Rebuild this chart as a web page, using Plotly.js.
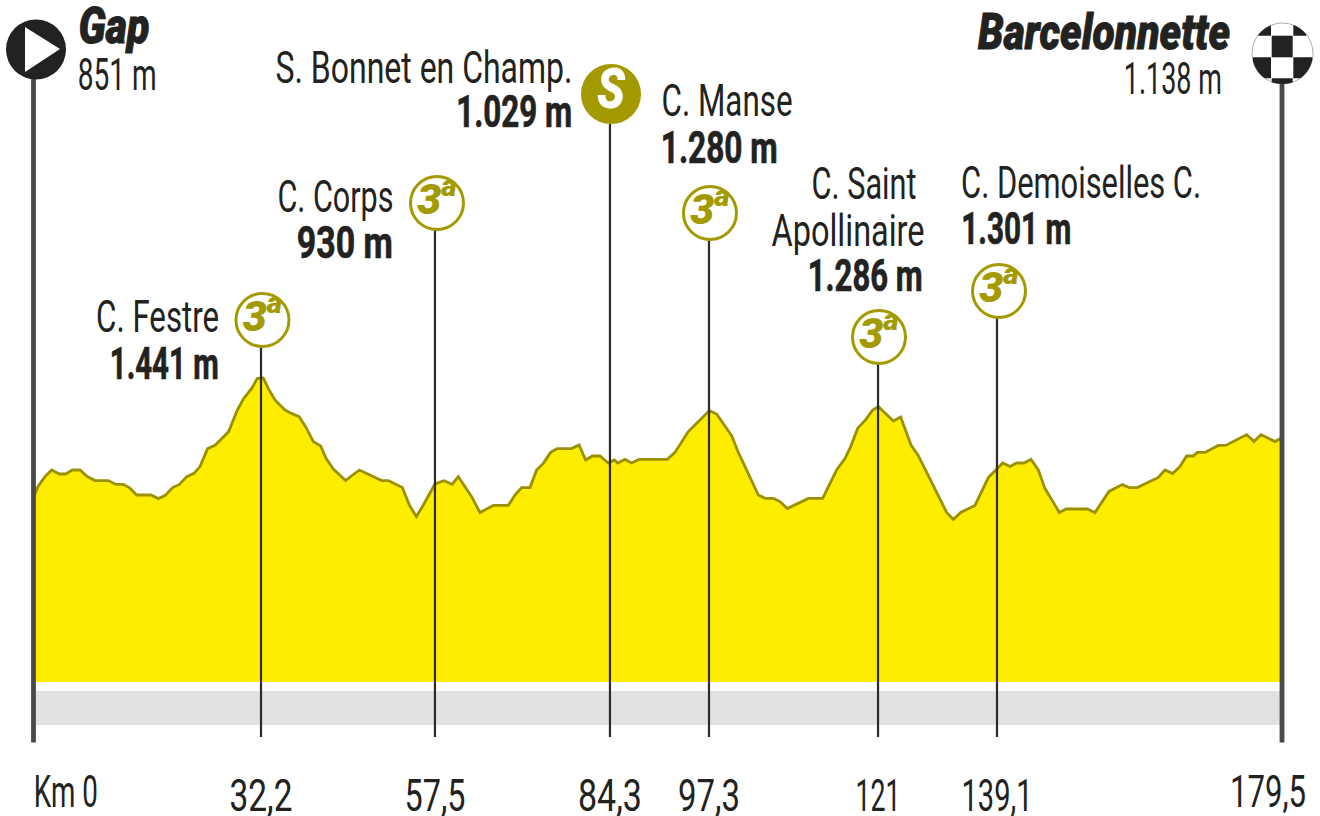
<!DOCTYPE html>
<html><head><meta charset="utf-8">
<script src="https://cdn.plot.ly/plotly-3.0.0.min.js"></script>
<style>html,body{margin:0;padding:0;background:#fff}#c{width:1320px;height:816px}</style>
</head><body><div id="c"></div>
<script>
// ---- data ----
const profileKm=[0,0.62,1.58,2.54,3.65,4.56,5.52,6.62,7.68,8.78,10.7,11.8,12.86,13.73,14.78,16.85,17.9,18.86,19.97,20.93,22,23.04,23.9,25,26.06,27.02,28.03,29.28,30.14,31.34,32.16,33.02,33.74,34.7,36.14,37.1,38.16,39.17,40.22,41.28,42.05,43.1,44.88,45.89,46.85,47.9,48.96,50.06,51.02,53.04,54.05,55.06,56.06,57.02,57.74,59.04,60.19,61.1,63.02,64.22,66.14,68.3,69.26,70.22,71.42,72.38,73.34,74.4,75.36,77.42,78.48,79.44,80.4,81.5,82.7,83.57,84.05,85.1,86.06,87.12,91.2,92.3,94.22,95.18,97.25,98.3,99.26,100.46,101.42,104.3,105.36,106.46,107.42,108.48,111.5,113.57,115.58,116.8,117.6,118.6,119.8,120.77,121.58,122.69,123.74,124.8,126.29,127.34,131.42,132.38,133.44,135.5,137.42,138.86,139.49,140.54,141.5,142.56,143.57,144.62,145.58,146.54,147.65,148.61,151.68,152.78,154.8,156.72,157.73,158.88,161.9,162.86,163.97,165.02,165.98,166.94,167.52,168.62,170.54,171.6,174.62,175.68,176.69,178.7,179.5];
const profileElev=[851,901,948,981,961,961,981,981,948,928,928,909,909,893,856,856,838,853,893,909,948,964,998,1088,1104,1138,1173,1281,1336,1389,1439,1441,1389,1331,1281,1264,1248,1194,1123,1101,1039,986,928,956,981,964,946,928,928,893,806,748,806,868,911,927,909,948,848,768,804,804,856,893,893,981,1014,1069,1088,1088,1106,1031,1051,1051,1016,1031,1016,1034,1016,1034,1034,1069,1173,1206,1278,1261,1214,1153,1069,856,839,839,823,788,839,839,981,1039,1098,1189,1234,1281,1298,1261,1226,1246,1106,1053,769,734,769,804,943,994,1016,999,1016,1016,1034,981,888,834,768,786,786,768,874,908,893,893,944,981,963,999,1051,1051,1069,1069,1104,1104,1158,1123,1158,1123,1138];
const passKm=[32.69,57.74,82.94,97.2,121.54,138.67];
const passTick=["32,2","57,5","84,3","97,3","121","139,1"];
const climbKm=[32.9,58.03,97.34,121.68,138.96];
const sprintKm=[83.09];
const climbBadge="3<sup>a</sup>", sprintBadge="S";
const startName="Gap", startAlt="851 m", endName="Barcelonnette", endAlt="1.138 m";
const startTick="Km 0", endTick="179,5";

// ---- picture layout ----
const X=p=>(p-34)*0.144, Y=p=>3331-5*p;
const W=1320,H=816,PB=745;
const INK="#222221",POLE="#474a4a",OLIVE="#A39A00",YEL="#FFED00";
const FN="Roboto,'Liberation Sans',sans-serif";
const climbY=[320,203,213,337,291], sprintY=[94];
const badgeTop=[347,230,124,240,364,318];

const linesX=[],linesY=[];
passKm.forEach((k,i)=>{linesX.push(k,k,null);linesY.push(Y(badgeTop[i]),Y(737),null)});

const traces=[
 {x:[0,179.5],y:[Y(682),Y(682)],mode:'lines',line:{width:0,color:YEL},hoverinfo:'skip'},
 {x:profileKm,y:profileElev,mode:'lines',fill:'tonexty',fillcolor:YEL,line:{color:'#9A9000',width:2.8,shape:'linear'}},
 {x:linesX,y:linesY,mode:'lines',line:{color:'#2b2b2b',width:2.2},hoverinfo:'skip'},
 {x:climbKm,y:climbY.map(Y),mode:'markers+text',text:climbKm.map(()=>climbBadge),textposition:'middle center',
  textfont:{family:FN,size:43,color:OLIVE,weight:900,style:'italic'},
  marker:{size:53,color:'#fff',opacity:1,line:{color:OLIVE,width:3}},cliponaxis:false},
 {x:sprintKm,y:sprintY.map(Y),mode:'markers+text',text:[sprintBadge],textposition:'middle center',
  textfont:{family:FN,size:56,color:'#fff',weight:900,style:'italic'},
  marker:{size:57,color:OLIVE,opacity:1,line:{color:OLIVE,width:3}},cliponaxis:false}
];

// ---- finish flag: checker cells clipped to the disc ----
function cell(cx,cy,r,x0,x1,y0,y1){
  const top=[],bot=[];
  for(let x=x0;x<=x1+0.001;x+=1){
    const h=r*r-x*x; if(h<=0)continue;
    const s=Math.sqrt(h),a=Math.max(y0,-s),b=Math.min(y1,s);
    if(a>=b)continue;
    top.push([x,a]);bot.unshift([x,b]);
  }
  const pts=top.concat(bot);
  return 'M'+pts.map(q=>X(cx+q[0])+','+Y(cy+q[1])).join('L')+'Z';
}
const fx=1282.5,fy=53.5,fr=30.5,e=[-fr,-10.8,10.8,fr],g=[-fr,-17.8,3.8,24.8,fr];
const blackCells=[[0,0],[2,0],[1,1],[0,2],[2,2],[1,3]];
const flag=blackCells.map(c=>({type:'path',path:cell(fx,fy,fr,e[c[0]],e[c[0]+1],g[c[1]],g[c[1]+1]),fillcolor:INK,line:{width:0}}));
const circ=(cx,cy,r,fill,line)=>({type:'circle',x0:X(cx-r),x1:X(cx+r),y0:Y(cy+r),y1:Y(cy-r),fillcolor:fill,line});

const shapes=[
 {type:'rect',layer:'below',x0:X(36),x1:X(1280),y0:Y(725),y1:Y(691),fillcolor:'#E1E1E1',line:{width:0}},
 {type:'line',x0:X(33.5),x1:X(33.5),y0:Y(742.5),y1:Y(70),line:{color:POLE,width:4.8}},
 {type:'line',x0:X(1282),x1:X(1282),y0:Y(742.5),y1:Y(70),line:{color:POLE,width:4.8}},
 circ(36,49.5,30,INK,{width:0}),
 {type:'path',path:`M${X(25)},${Y(27)}L${X(60)},${Y(49)}L${X(25)},${Y(72)}Z`,fillcolor:'#fff',line:{width:0}},
 circ(fx,fy,fr,'#fff',{width:0.6,color:'#777'}),
 ...flag
];

// ---- text: each label gets a centre, and the width it occupies in the picture ----
const widths=[],strokes=[];
function lab(text,cx,py,w,size,style){
  widths.push(w);strokes.push(style==='bi'?0.9:style==='b'?0.7:0);
  return {text,x:X(cx),y:(PB-py)/PB,xref:'x',yref:'paper',xanchor:'center',yanchor:'middle',showarrow:false,borderpad:0,
    font:{family:FN,size,color:INK,weight:style==='bi'?900:style==='b'?700:400,style:style==='bi'?'italic':'normal'}};
}
const S=45,B=45,T=50;
const annotations=[
 lab(startName,113.5,26,71,T,'bi'),lab(startAlt,117.5,75,79,S),
 lab(endName,1104,32,252,T,'bi'),lab(endAlt,1173,79,98,S),
 lab("C. Festre",157.5,316,123,S),lab("1.441 m",164.5,363,109,B,'b'),
 lab("C. Corps",335,196,116,S),lab("930 m",345,242,96,B,'b'),
 lab("S. Bonnet en Champ.",423.5,67,297,S),lab("1.029 m",514,112,116,B,'b'),
 lab("C. Manse",726.5,100,131,S),lab("1.280 m",719.5,147,117,B,'b'),
 lab("C. Saint",863.5,183,105,S),lab("Apollinaire",847.5,230,153,S),lab("1.286 m",865.5,275,115,B,'b'),
 lab("C. Demoiselles C.",1081,182,240,S),lab("1.301 m",1016,228,110,B,'b'),
 lab(startTick,66,791,64,S),lab(endTick,1268,791,76,S)
];
const tickWidths=[63,61,64,62,45,71];

const layout={width:W,height:H,autosize:false,showlegend:false,paper_bgcolor:'#fff',plot_bgcolor:'#fff',
 margin:{l:0,r:0,t:0,b:H-PB,pad:0},
 xaxis:{range:[X(0),X(W)],tickmode:'array',tickvals:passKm,ticktext:passTick,ticks:'outside',ticklen:11,tickcolor:'rgba(0,0,0,0)',
   showgrid:false,zeroline:false,showline:false,tickangle:0,tickfont:{family:FN,size:S,color:INK}},
 yaxis:{range:[Y(PB),Y(0)],visible:false,showgrid:false,zeroline:false},
 shapes,annotations};
Plotly.newPlot('c',traces,layout,{staticPlot:true,displayModeBar:false}).then(gd=>{
  const fit=(el,w)=>{el.setAttribute('textLength',w);el.setAttribute('lengthAdjust','spacingAndGlyphs');};
  gd.querySelectorAll('.annotation-text').forEach((el,i)=>{
    fit(el,widths[i]);
    if(strokes[i]){el.style.stroke=INK;el.style.strokeWidth=strokes[i]+'px';}
  });
  gd.querySelectorAll('.xtick text').forEach((el,i)=>fit(el,tickWidths[i]));
  const badges=gd.querySelectorAll('.textpoint text');
  fit(badges[badges.length-1],28);
});
</script></body></html>
